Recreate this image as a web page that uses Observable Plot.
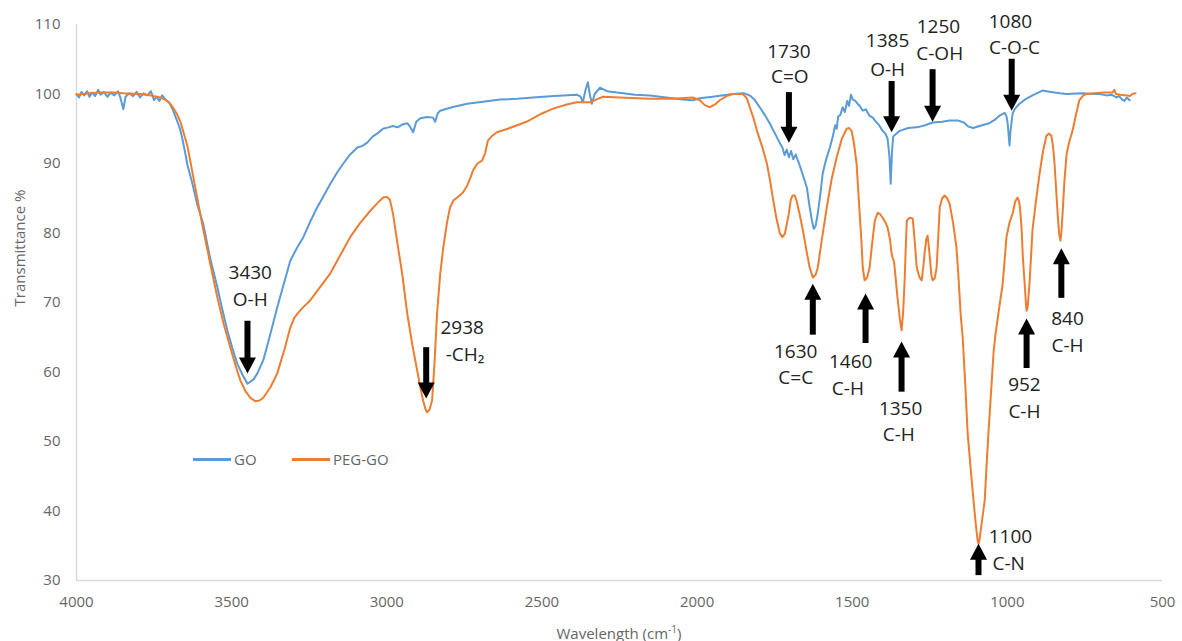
<!DOCTYPE html>
<html><head><meta charset="utf-8">
<script src="https://cdn.jsdelivr.net/npm/d3@7"></script>
<script src="https://cdn.jsdelivr.net/npm/@observablehq/plot@0.6"></script>
<style>
body{margin:0;background:#fff;font-family:"Open Sans",sans-serif;}
#wrap{position:relative;width:1182px;height:641px;}
.t{position:absolute;color:#666;font-size:15px;white-space:nowrap;line-height:1;}
.sw{position:absolute;height:2.5px;}
</style></head><body><div id="wrap"></div>
<script>
// ---- data ----
const xTicks = [4000, 3500, 3000, 2500, 2000, 1500, 1000, 500];
const yTicks = [30, 40, 50, 60, 70, 80, 90, 100, 110];
const seriesNames = ["GO", "PEG-GO"];
const seriesColors = ["#5B9BD5", "#ED7D31"];

const goPoints = [[4000,100.0],[3992,99.5],[3984,100.3],[3975,99.8],[3966,100.4],[3958,99.6],[3950,100.2],[3940,99.7],[3930,100.6],[3922,99.9],[3912,100.3],[3900,99.6],[3890,100.2],[3878,99.8],[3866,100.4],[3858,99.4],[3849,97.8],[3842,99.6],[3830,100.1],[3818,99.7],[3806,100.3],[3795,99.5],[3784,100.1],[3772,99.8],[3760,100.4],[3750,99.1],[3742,99.6],[3733,99.0],[3724,99.8],[3713,99.2],[3702,98.8],[3690,97.8],[3678,96.4],[3666,94.9],[3659,93.6],[3650,91.6],[3643,89.9],[3627,87.2],[3610,84.0],[3591,81.2],[3570,76.5],[3546,72.2],[3530,69.0],[3514,66.0],[3498,63.5],[3482,61.2],[3465,59.6],[3449,58.3],[3440,58.6],[3430,58.9],[3417,59.8],[3398,61.7],[3375,65.5],[3353,69.3],[3330,73.0],[3311,76.0],[3290,77.8],[3269,79.4],[3245,81.8],[3224,83.7],[3200,85.6],[3182,87.1],[3160,88.7],[3140,90.0],[3118,91.3],[3095,92.3],[3080,92.5],[3063,93.0],[3045,93.9],[3031,94.3],[3012,95.0],[2995,95.2],[2980,95.4],[2965,95.2],[2950,95.6],[2934,95.8],[2925,95.3],[2915,94.5],[2905,96.0],[2892,96.5],[2870,96.7],[2851,96.6],[2844,96.0],[2836,97.2],[2828,97.6],[2790,98.1],[2741,98.6],[2690,98.9],[2635,99.2],[2580,99.3],[2529,99.5],[2460,99.7],[2387,99.9],[2375,99.6],[2368,98.8],[2360,100.5],[2352,101.7],[2346,100.0],[2339,98.6],[2330,100.0],[2313,100.9],[2290,100.4],[2258,100.2],[2200,99.9],[2152,99.8],[2100,99.5],[2046,99.2],[2014,99.1],[1991,99.4],[1950,99.6],[1885,100.0],[1850,100.1],[1830,99.8],[1815,99.2],[1798,98.1],[1782,97.0],[1766,95.8],[1750,94.4],[1733,92.9],[1725,92.3],[1718,91.2],[1711,92.0],[1704,90.9],[1697,91.8],[1690,90.6],[1682,91.3],[1675,90.4],[1669,89.7],[1658,88.2],[1646,86.5],[1638,84.0],[1630,81.8],[1624,80.6],[1618,81.0],[1611,82.8],[1603,85.5],[1595,88.6],[1584,90.6],[1572,92.3],[1562,94.0],[1555,95.5],[1550,95.0],[1545,96.8],[1538,97.0],[1531,98.1],[1524,97.4],[1516,99.0],[1510,98.3],[1504,99.9],[1498,99.2],[1490,99.0],[1483,98.6],[1476,98.3],[1466,97.6],[1456,97.8],[1445,96.9],[1434,96.6],[1425,96.1],[1415,95.6],[1402,94.7],[1393,94.3],[1386,93.6],[1380,91.0],[1376,87.1],[1372,91.5],[1368,93.9],[1360,94.2],[1347,94.7],[1320,95.1],[1292,95.2],[1265,95.5],[1241,95.9],[1210,96.0],[1186,96.2],[1160,96.2],[1140,95.9],[1125,95.3],[1110,95.1],[1090,95.4],[1058,95.8],[1040,96.3],[1025,96.9],[1009,97.3],[1003,96.8],[999,95.8],[995,93.6],[993,92.6],[990,94.6],[983,97.2],[975,97.9],[961,98.6],[940,99.3],[919,99.8],[900,100.2],[887,100.5],[860,100.3],[830,100.1],[809,100.0],[760,100.1],[720,100.0],[703,100.0],[680,99.8],[665,99.9],[648,99.5],[640,99.7],[630,99.2],[623,99.0],[615,99.5],[606,99.1]];

const pegPoints = [[4000,99.9],[3960,100.1],[3923,100.2],[3880,100.2],[3849,100.1],[3794,100.0],[3760,99.8],[3730,99.5],[3715,99.2],[3700,98.7],[3688,98.0],[3675,97.0],[3665,96.0],[3656,94.6],[3643,92.6],[3633,90.3],[3623,87.9],[3607,84.1],[3591,80.4],[3570,75.8],[3546,70.7],[3525,66.8],[3504,63.5],[3488,61.0],[3472,58.8],[3455,57.2],[3440,56.3],[3424,55.8],[3410,55.9],[3398,56.3],[3375,57.8],[3353,59.8],[3330,63.2],[3311,66.4],[3298,67.8],[3288,68.4],[3270,69.3],[3247,70.3],[3215,72.2],[3182,74.2],[3150,76.8],[3118,79.4],[3085,81.5],[3053,83.2],[3030,84.3],[3012,85.1],[3000,85.2],[2990,84.8],[2980,82.8],[2967,78.9],[2950,74.0],[2934,68.4],[2918,64.0],[2902,60.2],[2890,57.4],[2883,55.9],[2875,54.6],[2870,54.2],[2862,54.6],[2854,55.9],[2846,61.5],[2838,68.4],[2828,74.0],[2818,77.9],[2806,81.5],[2796,83.7],[2785,84.7],[2773,85.1],[2755,85.8],[2741,86.8],[2730,88.0],[2722,89.0],[2708,90.0],[2693,90.4],[2683,91.5],[2674,93.3],[2660,94.0],[2645,94.5],[2610,95.0],[2580,95.5],[2550,96.0],[2529,96.5],[2500,97.2],[2464,97.9],[2420,98.5],[2387,98.8],[2345,98.8],[2320,99.3],[2303,99.6],[2250,99.5],[2152,99.3],[2080,99.3],[2014,99.5],[1991,99.1],[1975,98.4],[1959,98.1],[1942,98.5],[1927,99.1],[1905,99.7],[1885,100.0],[1853,100.0],[1840,99.4],[1830,98.1],[1818,96.5],[1807,94.7],[1790,92.4],[1775,90.0],[1765,87.6],[1756,85.1],[1745,82.3],[1733,79.9],[1725,79.4],[1717,79.9],[1705,82.6],[1698,84.8],[1692,85.4],[1685,85.4],[1679,84.6],[1670,82.8],[1659,80.4],[1648,77.6],[1637,75.0],[1627,73.6],[1618,74.0],[1611,75.0],[1598,79.0],[1582,83.7],[1566,87.8],[1550,90.9],[1534,93.5],[1518,95.0],[1510,95.1],[1502,94.7],[1494,92.8],[1486,90.0],[1481,86.4],[1476,82.8],[1470,78.6],[1466,75.0],[1460,73.2],[1452,73.6],[1444,75.0],[1435,78.8],[1427,81.8],[1418,82.9],[1410,82.7],[1402,82.2],[1394,81.6],[1386,80.8],[1378,79.0],[1373,77.0],[1370,76.5],[1365,75.8],[1354,70.7],[1346,67.5],[1341,66.0],[1336,68.5],[1331,73.2],[1327,78.5],[1324,81.8],[1315,82.2],[1305,82.1],[1298,78.5],[1292,75.0],[1283,73.6],[1276,73.2],[1270,75.5],[1267,77.0],[1261,79.2],[1257,79.6],[1253,78.0],[1250,76.5],[1245,74.0],[1241,73.2],[1234,73.5],[1228,75.0],[1222,80.0],[1218,83.7],[1210,85.0],[1202,85.4],[1194,85.0],[1186,84.2],[1175,81.5],[1164,77.9],[1158,74.0],[1150,68.0],[1144,65.0],[1136,58.5],[1128,51.2],[1118,46.0],[1109,41.5],[1102,38.2],[1096,35.8],[1093,35.3],[1090,35.8],[1082,38.5],[1073,41.5],[1067,46.5],[1061,51.2],[1052,57.5],[1044,63.1],[1038,65.5],[1027,69.0],[1015,72.7],[1009,76.0],[1003,79.4],[993,81.5],[983,82.8],[975,84.5],[967,85.1],[962,84.5],[958,83.0],[954,80.5],[950,76.5],[945,73.2],[940,69.8],[938,68.8],[934,69.5],[928,73.2],[919,80.4],[908,84.5],[896,88.6],[885,91.8],[874,94.0],[866,94.3],[858,94.0],[853,92.5],[848,90.0],[843,86.5],[838,82.8],[833,79.8],[829,78.9],[826,80.0],[822,82.8],[816,87.5],[809,91.4],[800,93.2],[790,94.7],[780,96.8],[768,99.1],[755,99.8],[745,100.0],[720,100.1],[690,100.2],[661,100.2],[655,100.6],[650,100.0],[635,99.9],[616,99.8],[605,99.7],[597,100.0],[587,100.1]];

// peak annotations
const annNumber = ["3430","2938","1730","1385","1250","1080","1630","1460","1350","952","840","1100"];
const annGroup  = ["O-H","-CH₂","C=O","O-H","C-OH","C-O-C","C=C","C-H","C-H","C-H","C-H","C-N"];
const annNumberW = [3440,2757,1704,1386,1222,990,1682,1505,1344,945,806,990];
const annNumberT = [74.2,66.4,106.1,107.6,109.6,110.4,62.9,61.4,54.7,58.1,67.6,36.3];
const annGroupW  = [3440,2748,1701,1386,1218,977,1682,1514,1350,945,806,996];
const annGroupT  = [70.4,62.5,102.5,103.5,105.7,106.6,59.2,57.6,51.0,54.2,63.8,32.4];
const arrowW     = [3449,2873,1704,1373,1241,986,1627,1457,1341,938,826,1093];
const arrowTail  = [67.3,63.5,100.2,101.8,103.5,105.0,65.3,64.1,57.1,60.5,70.6,30.7];
const arrowTip   = [59.8,56.2,93.0,94.5,96.0,97.6,72.7,71.3,64.4,67.7,77.8,35.3];

// ---- build tables ----
const lines = [
  ...goPoints.map(([w, t]) => ({w, t, s: seriesNames[0]})),
  ...pegPoints.map(([w, t]) => ({w, t, s: seriesNames[1]}))
];
const labels = [
  ...annNumber.map((txt, i) => ({txt, w: annNumberW[i], t: annNumberT[i]})),
  ...annGroup.map((txt, i) => ({txt, w: annGroupW[i], t: annGroupT[i]}))
];
const arrows = arrowW.map((w, i) => ({w, tail: arrowTail[i], tip: arrowTip[i], up: arrowTip[i] > arrowTail[i]}));
const ups = arrows.filter(d => d.up), downs = arrows.filter(d => !d.up);

const arrowHead = {draw(ctx) { ctx.moveTo(0, 0); ctx.lineTo(8.5, 16); ctx.lineTo(-8.5, 16); ctx.closePath(); }};

const chart = Plot.plot({
  width: 1182, height: 641,
  marginLeft: 76, marginRight: 20, marginTop: 24, marginBottom: 61,
  style: {fontFamily: "Open Sans, sans-serif", fontSize: "15px", color: "#666", background: "#fff"},
  x: {domain: [4000, 500]},
  y: {domain: [30, 110]},
  color: {domain: seriesNames, range: seriesColors},
  marks: [
    Plot.axisX(xTicks, {tickSize: 0, tickPadding: 16, label: null, tickFormat: d => String(d)}),
    Plot.axisY(yTicks, {tickSize: 0, tickPadding: 16, label: null, tickFormat: d => String(d)}),
    Plot.ruleX([4000], {stroke: "#d9d9d9", strokeWidth: 1.5}),
    Plot.ruleY([30], {stroke: "#d9d9d9", strokeWidth: 1.5}),
    Plot.line(lines, {x: "w", y: "t", z: "s", stroke: "s", strokeWidth: 2, curve: "linear"}),
    Plot.ruleX(ups, {x: "w", y1: "tip", y2: "tail", stroke: "#000", strokeWidth: 6, insetTop: 12}),
    Plot.ruleX(downs, {x: "w", y1: "tail", y2: "tip", stroke: "#000", strokeWidth: 6, insetBottom: 12}),
    Plot.dot(ups, {x: "w", y: "tip", symbol: arrowHead, fill: "#000", stroke: "none", r: 6}),
    Plot.dot(downs, {x: "w", y: "tip", symbol: arrowHead, fill: "#000", stroke: "none", r: 6, rotate: 180}),
    Plot.text(labels, {x: "w", y: "t", text: "txt", fill: "#222", fontSize: 19, textAnchor: "middle"})
  ]
});

const wrap = document.getElementById("wrap");
wrap.appendChild(chart);

// axis titles and legend
function addDiv(html, css, cls = "t") {
  const d = document.createElement("div");
  d.className = cls; d.innerHTML = html; Object.assign(d.style, css); wrap.appendChild(d); return d;
}
addDiv("Transmittance %", {left: "19px", top: "248px", transform: "translate(-50%,-50%) rotate(-90deg)"});
addDiv("Wavelength (cm<sup style='font-size:10px;vertical-align:6px'>-1</sup>)", {left: "619px", top: "632px", transform: "translate(-50%,-50%)"});
const legendX = [193, 292];
seriesNames.forEach((name, i) => {
  addDiv("", {left: legendX[i] + "px", top: "458px", width: "38px", background: seriesColors[i]}, "sw");
  addDiv(name, {left: (legendX[i] + 41) + "px", top: "459px", transform: "translateY(-50%)"});
});
</script>
</body></html>
